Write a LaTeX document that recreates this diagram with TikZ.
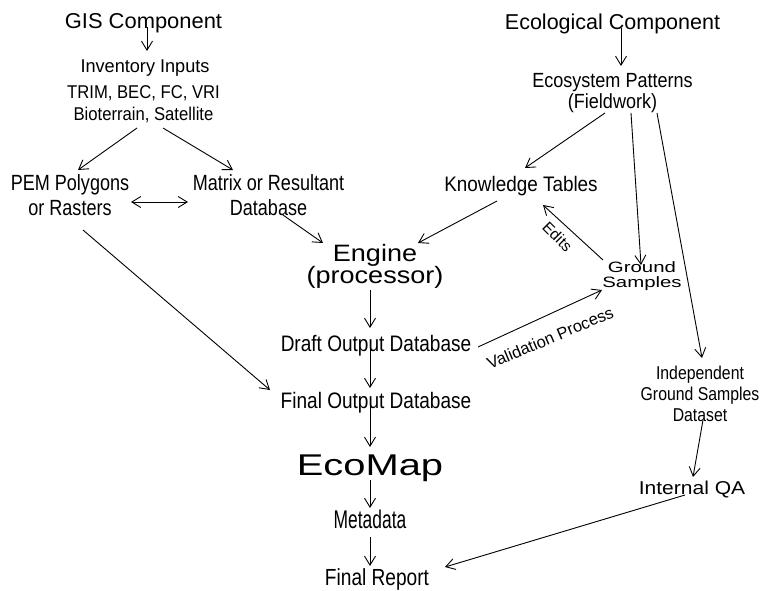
\documentclass[tikz,border=0pt]{standalone}
\usepackage{fontspec}
\setmainfont{Liberation Sans}
\usepackage{graphicx}
\usetikzlibrary{arrows.meta,calc}
\newcommand{\lbl}[4]{\fontsize{#1}{#2}\selectfont\scalebox{#3}[1]{\begin{tabular}[t]{@{}c@{}}#4\end{tabular}}}
\begin{document}
\begin{tikzpicture}[x=1pt,y=-1pt,
  every node/.style={inner sep=0pt,anchor=base},
  arr/.style={-{Straight Barb[length=9pt,width=11pt]},line width=0.9pt},
  darr/.style={{Straight Barb[length=9pt,width=11pt]}-{Straight Barb[length=9pt,width=11pt]},line width=0.9pt},
  ln/.style={line width=0.9pt}]
\useasboundingbox[fill=white] (0,0) rectangle (760,590);
% nodes
\node (gis) at (143.5,28) {\lbl{21.5}{24}{1.02}{GIS Component}};
\node (ecol) at (612.5,29) {\lbl{21.5}{24}{1}{Ecological Component}};
\node (inv) at (145,72) {\lbl{18.5}{22}{0.98}{Inventory Inputs}};
\node (src) at (143.5,98) {\lbl{18.5}{22.5}{0.9}{TRIM, BEC, FC, VRI\\Bioterrain, Satellite}};
\node (pem) at (70,190.7) {\lbl{22}{24.3}{0.82}{PEM Polygons\\or Rasters}};
\node (mat) at (268.5,190.7) {\lbl{22}{24.3}{0.82}{Matrix or Resultant\\Database}};
\node (eng) at (375,261) {\lbl{23.7}{16}{1.14}{Engine\\(processor)}};
\node (draft) at (376,351) {\lbl{22.4}{24}{0.85}{Draft Output Database}};
\node (final) at (376,408.5) {\lbl{22.4}{24}{0.85}{Final Output Database}};
\node (eco) at (370,475) {\lbl{30}{32}{1.33}{EcoMap}};
\node (meta) at (370,528.5) {\lbl{25.6}{28}{0.68}{Metadata}};
\node (rep) at (377,585) {\lbl{23.3}{26}{0.82}{Final Report}};
\node (pat) at (612.5,87) {\lbl{20.5}{21}{0.88}{Ecosystem Patterns\\(Fieldwork)}};
\node (know) at (521,191) {\lbl{21}{23}{0.9}{Knowledge Tables}};
\node (gs) at (642,272) {\lbl{15}{15}{1.36}{Ground\\Samples}};
\node (ind) at (700,379) {\lbl{18.6}{21}{0.85}{Independent\\Ground Samples\\Dataset}};
\node (qa) at (692,494) {\lbl{18.6}{21}{1.13}{Internal QA}};
\node[anchor=center,rotate=23] (val) at (551,340) {\lbl{16.5}{18}{1}{Validation Process}};
\node[anchor=center,rotate=-45] (edits) at (556,238) {\lbl{15.5}{17}{1}{Edits}};
% connectors
\draw[arr] ($(gis.base)+(3.5,-1)$) -- ($(inv.base)+(2,-21)$);
\draw[arr] ($(ecol.base)+(8.5,-1)$) -- ($(pat.base)+(8.5,-21)$);
\draw[arr] ($(src.base)+(-6.5,30)$) -- ($(pem.base)+(8,-20.7)$);
\draw[arr] ($(src.base)+(19.5,30)$) -- ($(mat.base)+(-35.5,-20.7)$);
\draw[darr] ($(pem.base)+(61,11.3)$) -- ($(mat.base)+(-80.5,11.3)$);
\draw[arr] ($(mat.base)+(14.5,24.3)$) -- ($(eng.base)+(-52,-18)$);
\draw[arr] ($(pem.base)+(13,39.3)$) -- ($(final.base)+(-106,-18.5)$);
\draw[arr] ($(know.base)+(-24,10)$) -- ($(eng.base)+(43,-18)$);
\draw[arr] ($(pat.base)+(-7.5,26)$) -- ($(know.base)+(4,-23)$);
\draw[arr] ($(pat.base)+(18.5,26)$) -- ($(gs.base)+(-1,-7)$);
\draw[arr] ($(pat.base)+(44.5,26)$) -- ($(ind.base)+(2,-21)$);
\draw[arr] ($(gs.base)+(-39,-12)$) -- ($(know.base)+(22,14)$);
\draw[arr] ($(draft.base)+(102,-4)$) -- ($(gs.base)+(-40,18)$);
\draw[arr] ($(eng.base)+(-5,29)$) -- ($(draft.base)+(-6,-23)$);
\draw[arr] ($(draft.base)+(-6,-6)$) -- ($(final.base)+(-6,-20.5)$);
\draw[arr] ($(final.base)+(-6,-3.5)$) -- ($(eco.base)+(0,-28)$);
\draw[arr] ($(eco.base)+(0,5)$) -- ($(meta.base)+(0,-20.5)$);
\draw[arr] ($(meta.base)+(0,8.5)$) -- ($(rep.base)+(-7,-19)$);
\draw[arr] ($(ind.base)+(3,41)$) -- ($(qa.base)+(1,-17)$);
\draw[arr] ($(qa.base)+(-7,1)$) -- ($(rep.base)+(68,-18)$);
\end{tikzpicture}
\end{document}
